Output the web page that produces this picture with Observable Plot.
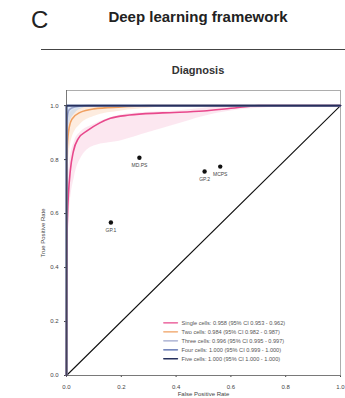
<!DOCTYPE html>
<html>
<head>
<meta charset="utf-8">
<script src="https://cdn.jsdelivr.net/npm/d3@7"></script>
<script src="https://cdn.jsdelivr.net/npm/@observablehq/plot@0.6"></script>
<style>
  html, body { margin: 0; padding: 0; background: #fff; }
  body { width: 345px; height: 398px; overflow: hidden; font-family: "Liberation Sans", Arial, sans-serif; }
  #head { position: relative; height: 80px; }
  #panel { position: absolute; left: 31px; top: 6px; font-size: 24px; color: #222; }
  #title { position: absolute; left: 60px; width: 276px; top: 8px; text-align: center; font-size: 15px; font-weight: bold; color: #222; }
  #rule { position: absolute; left: 41px; right: 0; top: 49px; border-top: 1.5px solid #444; }
  #sub { position: absolute; left: 60px; width: 276px; top: 64px; text-align: center; font-size: 11px; font-weight: bold; color: #333; }
</style>
</head>
<body>
<div id="head">
  <div id="panel">C</div>
  <div id="title">Deep learning framework</div>
  <div id="rule"></div>
  <div id="sub">Diagnosis</div>
</div>
<div id="chart"></div>
<script>
// ROC curves (false positive rate, true positive rate)
const seriesNames = ["Single cells", "Two cells", "Three cells", "Four cells", "Five cells"];
const seriesColors = ["#e8488c", "#f0a060", "#9ea6cc", "#4a62a8", "#26305c"];
const legendLabels = [
  "Single cells: 0.958 (95% CI 0.953 - 0.962)",
  "Two cells: 0.984 (95% CI 0.982 - 0.987)",
  "Three cells: 0.996 (95% CI 0.995 - 0.997)",
  "Four cells: 1.000 (95% CI 0.999 - 1.000)",
  "Five cells: 1.000 (95% CI 1.000 - 1.000)"
];

const singleFpr = [0, 0.001, 0.002, 0.004, 0.007, 0.014, 0.025, 0.043, 0.076, 0.12, 0.16, 0.23, 0.35, 0.5, 0.6, 0.7, 1];
const singleTpr = [0, 0.35, 0.5, 0.6, 0.67, 0.76, 0.83, 0.878, 0.907, 0.935, 0.953, 0.965, 0.973, 0.98, 0.99, 1, 1];
const twoFpr = [0, 0.001, 0.003, 0.01, 0.02, 0.05, 0.1, 0.2, 0.3, 1];
const twoTpr = [0, 0.7, 0.85, 0.92, 0.95, 0.975, 0.988, 0.995, 1, 1];
const threeFpr = [0, 0.001, 0.002, 0.01, 0.03, 0.08, 1];
const threeTpr = [0, 0.85, 0.95, 0.985, 0.995, 1, 1];
const fourFpr = [0, 0, 1];
const fourTpr = [0, 1, 1];
const fiveFpr = [0, 0, 1];
const fiveTpr = [0, 1, 1];

// 95% confidence bands
const singleBandFpr = [0, 0.005, 0.01, 0.03, 0.05, 0.1, 0.2, 0.3, 0.4, 0.5, 0.6, 0.7, 1];
const singleBandLo  = [0, 0.45, 0.6, 0.74, 0.8, 0.85, 0.87, 0.9, 0.93, 0.96, 0.98, 0.99, 1];
const singleBandHi  = [0, 0.7, 0.78, 0.87, 0.9, 0.93, 0.965, 0.975, 0.98, 0.99, 1, 1, 1];
const twoBandFpr = [0, 0.005, 0.02, 0.05, 0.1, 0.2, 0.3, 0.4, 1];
const twoBandLo  = [0, 0.75, 0.88, 0.93, 0.96, 0.98, 0.99, 1, 1];
const twoBandHi  = [0, 0.95, 0.98, 0.99, 1, 1, 1, 1, 1];
const threeBandFpr = [0, 0.003, 0.01, 0.03, 0.06, 0.1, 1];
const threeBandLo  = [0, 0.88, 0.93, 0.97, 0.99, 1, 1];
const threeBandHi  = [0, 1, 1, 1, 1, 1, 1];

// Reader operating points
const readerFpr = [0.266, 0.162, 0.504, 0.561];
const readerTpr = [0.807, 0.567, 0.756, 0.774];
const readerLabels = ["MD.PS", "GP.1", "GP.2", "MCPS"];

// Axis ticks
const xTicks = [0, 0.2, 0.4, 0.6, 0.8, 1];
const yTicks = [0, 0.2, 0.4, 0.6, 0.8, 1];

const curveFpr = [singleFpr, twoFpr, threeFpr, fourFpr, fiveFpr];
const curveTpr = [singleTpr, twoTpr, threeTpr, fourTpr, fiveTpr];
const curves = seriesNames.flatMap((s, i) => curveFpr[i].map((x, j) => ({series: s, x, y: curveTpr[i][j]})));
const bands = [
  {s: "Single cells", f: singleBandFpr, lo: singleBandLo, hi: singleBandHi, c: "#f9d3e3"},
  {s: "Two cells", f: twoBandFpr, lo: twoBandLo, hi: twoBandHi, c: "#fbdcc4"},
  {s: "Three cells", f: threeBandFpr, lo: threeBandLo, hi: threeBandHi, c: "#bcd4ec"}
].flatMap(b => b.f.map((x, j) => ({series: b.s, x, lo: b.lo[j], hi: b.hi[j], c: b.c})));
const readers = readerFpr.map((x, i) => ({x, y: readerTpr[i], label: readerLabels[i]}));
const legend = seriesNames.map((s, i) => ({series: s, label: legendLabels[i], i}));
const legendLines = legend.flatMap(d => [{...d, x: 0.355}, {...d, x: 0.405}]);
const legY = i => 0.195 - i * 0.0333;

const chart = Plot.plot({
  width: 345,
  height: 318,
  marginTop: 10,
  marginLeft: 66,
  marginRight: 5,
  marginBottom: 23,
  style: {fontFamily: "Liberation Sans, Arial, sans-serif", fontSize: "6px", color: "#444"},
  x: {domain: [0, 1], ticks: xTicks, tickFormat: d3.format(".1f"), tickSize: 2, label: "False Positive Rate", labelAnchor: "center", labelOffset: 20, labelArrow: "none"},
  y: {domain: [0, 1.056], ticks: yTicks, tickFormat: d3.format(".1f"), tickSize: 2, tickPadding: 6, label: "True Positive Rate", labelAnchor: "center", labelOffset: 26, labelArrow: "none"},
  color: {domain: seriesNames, range: seriesColors},
  marks: [
    Plot.frame({stroke: "#999", strokeWidth: 0.8}),
    Plot.areaY(bands, {x: "x", y1: "lo", y2: "hi", z: "series", fill: "c", fillOpacity: 0.55, curve: "monotone-x"}),
    Plot.line([{x: 0, y: 0}, {x: 1, y: 1}], {x: "x", y: "y", stroke: "#111", strokeWidth: 1.1}),
    Plot.line(curves, {x: "x", y: "y", z: "series", stroke: "series", strokeWidth: 1.6, curve: "monotone-x"}),
    Plot.ruleX([0], {stroke: "#555", strokeWidth: 0.6}),
    Plot.ruleY([0], {stroke: "#555", strokeWidth: 0.6}),
    Plot.dot(readers, {x: "x", y: "y", r: 2.2, fill: "#111"}),
    Plot.text(readers, {x: "x", y: "y", text: "label", dy: 8, fontSize: 5, fill: "#444"}),
    Plot.line(legendLines, {x: "x", y: d => legY(d.i), z: "series", stroke: "series", strokeWidth: 1.4}),
    Plot.text(legend, {x: 0.42, y: d => legY(d.i), text: "label", textAnchor: "start", fontSize: 5.6, fill: "#555"})
  ]
});
document.getElementById("chart").appendChild(chart);
</script>
</body>
</html>
